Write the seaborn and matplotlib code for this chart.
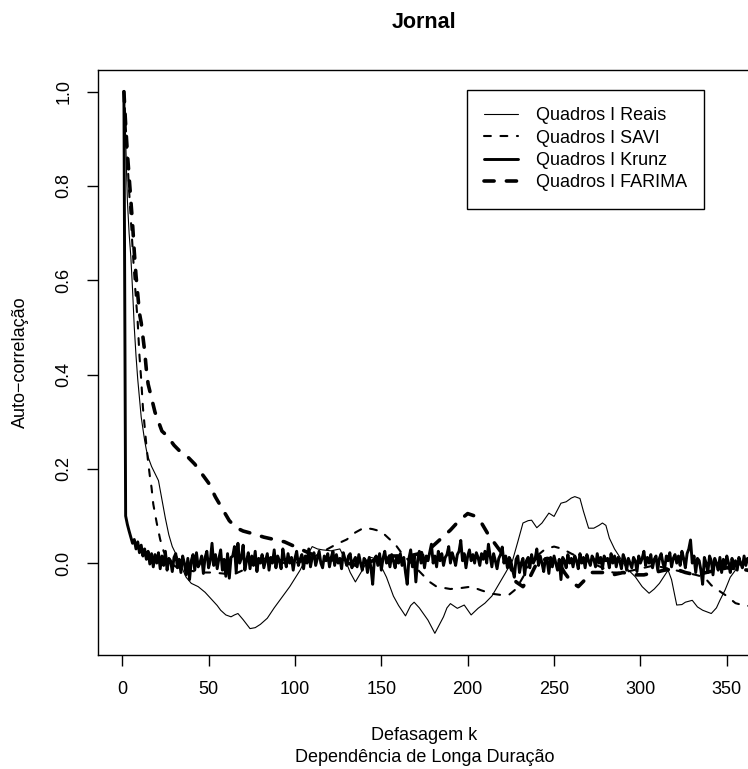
import numpy as np
import pandas as pd
import matplotlib
matplotlib.use("Agg")
import matplotlib.pyplot as plt
import seaborn as sns
from matplotlib.lines import Line2D

# ---------------- data ----------------
title = "Jornal"
x_ticks = [0, 50, 100, 150, 200, 250, 300, 350]
y_ticks = [0.0, 0.2, 0.4, 0.6, 0.8, 1.0]
y_tick_labels = ["0.0", "0.2", "0.4", "0.6", "0.8", "1.0"]
series_names = ["Quadros I Reais", "Quadros I SAVI", "Quadros I Krunz", "Quadros I FARIMA"]

reais_lag = [1, 2, 3, 4, 5, 6, 7, 8, 9, 10, 11, 12, 13, 14, 15, 17, 19, 21, 23, 25,
             27, 29, 31, 34, 37, 40, 44, 48, 52, 55, 57, 60, 63, 65, 67, 70, 74, 77, 80, 84,
             88, 92, 97, 103, 107, 110, 113, 116, 121, 126, 129, 132, 135, 139, 143, 146, 149, 153, 157, 160,
             164, 167, 169, 172, 177, 179, 181, 183, 186, 188, 190, 194, 198, 202, 206, 210, 214, 218, 222, 226,
             229, 232, 235, 237, 240, 243, 247, 250, 254, 257, 260, 262, 265, 267, 270, 273, 276, 278, 280, 282,
             285, 288, 292, 297, 301, 305, 308, 311, 316, 318, 321, 324, 326, 330, 333, 336, 341, 344, 346, 349,
             352, 355, 358, 362, 366]
reais_val = [1.0, 0.90, 0.77, 0.70, 0.65, 0.58, 0.50, 0.44, 0.39, 0.35, 0.31, 0.285, 0.26, 0.24, 0.225, 0.205, 0.19, 0.175, 0.135, 0.095,
             0.06, 0.035, 0.02, -0.005, -0.03, -0.043, -0.05, -0.062, -0.078, -0.09, -0.1, -0.11, -0.114, -0.11, -0.107, -0.12, -0.139, -0.137, -0.13, -0.117,
             -0.095, -0.075, -0.05, -0.015, 0.015, 0.035, 0.03, 0.028, 0.026, 0.03, 0.008, -0.02, -0.04, -0.015, 0.013, 0.01, 0.0, -0.03, -0.07, -0.09,
             -0.112, -0.09, -0.083, -0.095, -0.121, -0.135, -0.149, -0.135, -0.114, -0.095, -0.086, -0.096, -0.089, -0.11, -0.096, -0.085, -0.07, -0.045, -0.02, 0.006,
             0.045, 0.085, 0.09, 0.091, 0.075, 0.085, 0.106, 0.099, 0.127, 0.13, 0.138, 0.141, 0.137, 0.11, 0.074, 0.074, 0.08, 0.085, 0.08, 0.053,
             0.03, 0.013, -0.011, -0.029, -0.05, -0.064, -0.055, -0.043, -0.015, -0.035, -0.089, -0.088, -0.083, -0.079, -0.093, -0.1, -0.107, -0.095, -0.079, -0.057,
             -0.03, -0.015, 0.0, 0.005, -0.01]

savi_lag = [1, 2, 3, 4, 5, 6, 7, 8, 9, 10, 11, 12, 13, 14, 15, 16, 17, 18, 19, 20,
            22, 24, 26, 28, 32, 38, 45, 52, 58, 64, 70, 76, 82, 88, 94, 100, 106, 112, 118, 124,
            130, 135, 140, 145, 150, 155, 158, 162, 166, 170, 174, 178, 182, 190, 196, 202, 208, 214, 220, 224,
            228, 232, 236, 240, 245, 250, 255, 260, 266, 272, 278, 284, 290, 296, 302, 308, 314, 320, 326, 332,
            337, 341, 346, 350, 355, 360, 366]
savi_val = [1.0, 0.93, 0.86, 0.79, 0.73, 0.67, 0.61, 0.56, 0.51, 0.44, 0.39, 0.33, 0.29, 0.25, 0.215, 0.185, 0.16, 0.125, 0.105, 0.085,
            0.05, 0.025, 0.01, 0.0, -0.01, -0.015, -0.02, -0.02, -0.022, -0.025, -0.015, 0.0, 0.01, 0.005, 0.0, 0.0, 0.005, 0.015, 0.028, 0.04,
            0.05, 0.065, 0.075, 0.072, 0.067, 0.05, 0.04, 0.02, 0.005, -0.01, -0.025, -0.04, -0.05, -0.055, -0.053, -0.05, -0.058, -0.065, -0.068, -0.067,
            -0.055, -0.03, 0.0, 0.015, 0.03, 0.035, 0.03, 0.02, 0.01, 0.0, -0.01, -0.02, -0.02, -0.015, -0.01, -0.005, -0.01, -0.015, -0.02, -0.025,
            -0.03, -0.047, -0.06, -0.07, -0.085, -0.09, -0.092]

farima_lag = [1, 2, 3, 4, 5, 6, 7, 8, 9, 10, 11, 12, 13, 14, 15, 17, 19, 21, 23, 26,
              30, 34, 38, 42, 46, 50, 54, 58, 62, 66, 70, 76, 82, 88, 94, 100, 106, 112, 118, 124,
              130, 136, 142, 148, 154, 160, 166, 172, 178, 184, 190, 195, 200, 204, 208, 212, 216, 220, 224, 228,
              232, 236, 240, 246, 252, 256, 260, 264, 268, 272, 278, 284, 290, 296, 302, 308, 314, 320, 326, 332,
              338, 344, 350, 356, 362, 366]
farima_val = [1.0, 0.93, 0.87, 0.82, 0.77, 0.72, 0.66, 0.61, 0.57, 0.53, 0.51, 0.48, 0.45, 0.41, 0.38, 0.35, 0.32, 0.30, 0.28, 0.27,
              0.25, 0.235, 0.225, 0.21, 0.19, 0.17, 0.14, 0.115, 0.09, 0.075, 0.068, 0.062, 0.055, 0.05, 0.045, 0.035, 0.025, 0.015, 0.01, 0.005,
              0.0, -0.005, 0.0, 0.01, 0.015, 0.015, 0.015, 0.02, 0.03, 0.05, 0.07, 0.09, 0.105, 0.1, 0.085, 0.06, 0.04, 0.02, 0.0, -0.04,
              -0.05, -0.03, 0.0, 0.01, 0.005, -0.02, -0.04, -0.05, -0.035, -0.02, -0.02, -0.025, -0.02, -0.025, -0.025, -0.02, -0.015, -0.012, -0.02, -0.025,
              -0.02, -0.015, -0.01, -0.012, -0.015, -0.02]

# Krunz ACF values in thousandths, lag 1, 2, 3, ...
krunz_milli = [
    1000, 100, 82, 68, 55, 42, 50, 30, 45, 22, 38, 15, 30, 8, 25, -2, 20, -8, 18, 0,
    22, -12, 15, -5, 25, -15, 10, 5, -18, 12, 20, -10, 8, -20, 15, 0, -25, 10, -35, 5,
    18, -15, 22, -8, 0, 15, -22, 12, 25, -10, 5, 42, -5, 18, -12, 10, 28, -15, 8, -28,
    20, -32, 12, 15, 35, -20, 42, 0, 10, 38, -15, 5, 22, -12, 15, -5, 25, -18, 10, 0,
    18, -10, 5, 20, -15, 12, 0, 28, -10, 15, 5, -12, 30, 8, -8, 20, 0, 12, -15, 10,
    25, -5, 8, 18, -12, 15, 0, 30, -8, 12, 22, -5, 10, 25, 0, -10, 15, 5, 20, -8,
    12, 25, -5, 18, 0, 10, -12, 22, 8, -5, 15, 20, -10, 5, 12, -8, 18, 0, -15, 10,
    5, -20, 12, -10, -45, 8, 15, -5, 20, -15, 10, 25, 0, 12, -8, 18, 5, -10, 15, 0,
    20, -5, 12, -20, -45, 10, 28, -8, 15, -40, 5, 25, 0, 18, -10, 15, 5, 22, 40, 0,
    15, -8, 25, 5, 20, -5, 12, 18, 35, 0, 22, 10, -5, 18, 25, 48, 5, 20, -10, 15,
    28, 5, 18, 0, 22, 12, -5, 20, 8, 25, 0, 40, 15, -8, 20, 5, -12, 10, 18, 34,
    0, 15, -10, 12, 5, -15, -30, 8, 15, -20, 0, 10, -25, 5, 12, -10, 18, 0, 8, 30,
    -5, 15, 0, -18, 10, 5, -22, 12, -8, 15, 0, -15, 8, -35, 12, 5, -10, 18, 0, 10,
    -8, 15, 5, -12, 20, 0, 12, -10, 18, 5, -5, 15, 8, -8, 20, 0, 12, -12, 15, 5,
    10, -10, 20, 0, 15, -8, 12, 5, -12, 18, 8, -15, 10, 0, -10, 12, 5, -18, 15, 0,
    10, 25, -5, 12, 0, 18, -10, 8, 15, -15, 10, 20, 0, -12, 15, 5, 22, -8, 10, 18,
    0, 15, -5, 25, 10, -10, 20, 30, 49, 0, 15, -20, 10, 5, -15, -45, 12, 0, -20, 15,
    5, -25, 10, 0, -15, 12, -20, 8, -10, 15, 0, -20, 10, -8, 5, -15, 12, 0, -10, 15,
    -5, 10, 0, -12, 8, 5]
krunz_val = [v / 1000 for v in krunz_milli]
krunz_lag = list(range(1, len(krunz_val) + 1))

# ---------------- style ----------------
sns.set_style("ticks")
plt.rcParams['font.family'] = ['Liberation Sans', 'DejaVu Sans']
plt.rcParams['text.color'] = 'black'
plt.rcParams['axes.labelcolor'] = 'black'
plt.rcParams['xtick.color'] = 'black'
plt.rcParams['ytick.color'] = 'black'

W, H = 748, 769
fig = plt.figure(figsize=(W / 100, H / 100), dpi=100)
fig.patch.set_facecolor('white')
ax_l, ax_r, ax_t, ax_b = 98, 751, 70, 655
ax = fig.add_axes([ax_l / W, 1 - ax_b / H, (ax_r - ax_l) / W, (ax_b - ax_t) / H])
ax.set_facecolor('white')

styles = [
    dict(lw=0.8, dashes=None),
    dict(lw=1.5, dashes=(3.3, 4.6)),
    dict(lw=2.1, dashes=None),
    dict(lw=2.6, dashes=(2.8, 3.4)),
]
datasets = [(reais_lag, reais_val), (savi_lag, savi_val), (krunz_lag, krunz_val), (farima_lag, farima_val)]

handles = []
for (xs, ys), st, name in zip(datasets, styles, series_names):
    df = pd.DataFrame({"lag": xs, "acf": ys})
    n_before = len(ax.lines)
    sns.lineplot(data=df, x="lag", y="acf", ax=ax, color='black', lw=st['lw'],
                 errorbar=None, legend=False, sort=False)
    line = ax.lines[n_before]
    line.set_solid_capstyle('round')
    line.set_solid_joinstyle('round')
    if st['dashes'] is not None:
        line.set_dashes(st['dashes'])
        line.set_dash_capstyle('round')
    h = Line2D([], [], color='black', lw=st['lw'])
    if st['dashes'] is not None:
        h.set_dashes(st['dashes'])
        h.set_dash_capstyle('round')
    handles.append(h)

ax.set_xlim(-14, 364)
ax.set_ylim(-0.195, 1.046)
ax.set_xticks(x_ticks)
ax.set_xticklabels([str(t) for t in x_ticks])
ax.set_yticks(y_ticks)
ax.set_yticklabels(y_tick_labels)
ax.set_xlabel("")
ax.set_ylabel("")
ax.tick_params(axis='both', direction='out', length=8, width=1.0, labelsize=13, colors='black')
ax.tick_params(axis='x', pad=11)
ax.tick_params(axis='y', pad=10.5, labelrotation=90)
for lab in ax.get_yticklabels():
    lab.set_verticalalignment('center')
for s in ax.spines.values():
    s.set_color('black')
    s.set_linewidth(1.0)

leg = ax.legend(handles, series_names, loc='upper left',
                bbox_to_anchor=(467 / W, 1 - 90 / H), bbox_transform=fig.transFigure,
                frameon=True, fancybox=False, edgecolor='black', framealpha=1,
                fontsize=13, handlelength=1.9, handletextpad=0.95, borderpad=0.95,
                labelspacing=0.3, borderaxespad=0)
leg.get_frame().set_linewidth(1.0)

cx = (ax_l + ax_r) / 2
fig.text(cx / W, 1 - 23 / H, title, ha='center', va='center', fontsize=15.5, fontweight='bold')
fig.text(20 / W, 1 - 362 / H, "Auto\u2212correlação", rotation=90, ha='center', va='center', fontsize=13)
fig.text(cx / W, 1 - 736 / H, "Defasagem k", ha='center', va='center', fontsize=13)
fig.text(cx / W, 1 - 758 / H, "Dependência de Longa Duração", ha='center', va='center', fontsize=13)

fig.savefig("out.png", dpi=100, facecolor='white')
